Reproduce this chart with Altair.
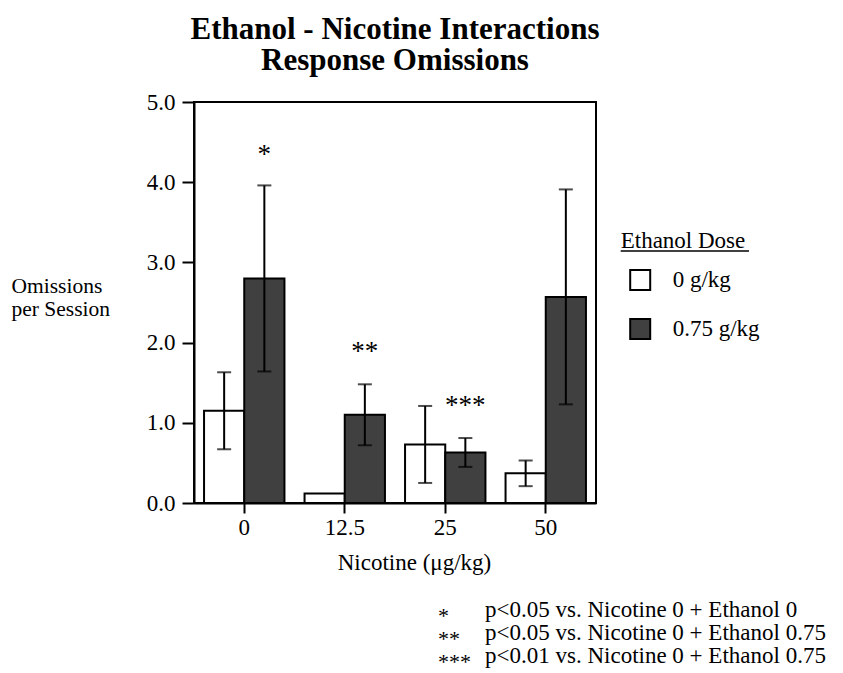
import altair as alt
import pandas as pd

FONT = "Liberation Serif"

nicotine = ["0", "12.5", "25", "50"]
doses = ["0 g/kg", "0.75 g/kg"]
mean_0 = [1.15, 0.12, 0.73, 0.37]
sem_0 = [0.48, 0.0, 0.48, 0.16]
mean_075 = [2.80, 1.10, 0.63, 2.57]
sem_075 = [1.16, 0.38, 0.18, 1.34]

star_labels = ["*", "**", "***"]
star_nicotine = ["0", "12.5", "25"]
star_y = [4.24, 1.78, 1.11]

footnote_marks = ["*", "**", "***"]
footnote_text = [
    "p<0.05 vs. Nicotine 0 + Ethanol 0",
    "p<0.05 vs. Nicotine 0 + Ethanol 0.75",
    "p<0.01 vs. Nicotine 0 + Ethanol 0.75",
]

rows = []
for n, m, s in zip(nicotine, mean_0, sem_0):
    rows.append({"nicotine": n, "dose": doses[0], "mean": m, "sem": s})
for n, m, s in zip(nicotine, mean_075, sem_075):
    rows.append({"nicotine": n, "dose": doses[1], "mean": m, "sem": s})
df = pd.DataFrame(rows)
df["lo"] = df["mean"] - df["sem"]
df["hi"] = df["mean"] + df["sem"]

stars = pd.DataFrame({"nicotine": star_nicotine, "dose": [doses[1]] * 3,
                      "y": star_y, "label": star_labels})
one = pd.DataFrame({"k": [0]})

FS = 23

x_enc = alt.X("nicotine:N", sort=nicotine,
              scale=alt.Scale(paddingInner=0.2, paddingOuter=0.1),
              axis=alt.Axis(title="Nicotine (μg/kg)", labelAngle=0, tickSize=10,
                            tickWidth=2, tickColor="black", domainWidth=2,
                            domainColor="black", labelFontSize=FS, labelFont=FONT,
                            labelColor="black", labelPadding=3, titleFont=FONT,
                            titleFontSize=FS, titleFontWeight="normal",
                            titleX=220, titleY=66, titleBaseline="alphabetic",
                            titleColor="black"))
xo_enc = alt.XOffset("dose:N", sort=doses,
                     scale=alt.Scale(paddingInner=0, paddingOuter=0))
y_scale = alt.Scale(domain=[0, 5], nice=False)
y_axis = alt.Axis(values=[0, 1, 2, 3, 4, 5], format=".1f", tickSize=12, tickWidth=2,
                  tickColor="black", domainWidth=2, domainColor="black", grid=False,
                  labelFontSize=FS, labelFont=FONT, labelColor="black", labelPadding=7,
                  titleAngle=0, titleAlign="left", titleX=-183, titleY=190,
                  titleBaseline="alphabetic", titleFontSize=21.5, titleFont=FONT,
                  titleFontWeight="normal", titleLineHeight=23, titleColor="black")
y_title = ["Omissions", "per Session"]

bars = alt.Chart(df).mark_bar(stroke="black", strokeWidth=2).encode(
    x=x_enc,
    xOffset=xo_enc,
    y=alt.Y("mean:Q", scale=y_scale, axis=y_axis, title=y_title),
    fill=alt.Fill("dose:N", sort=doses,
                  scale=alt.Scale(domain=doses, range=["white", "#404040"]),
                  legend=alt.Legend(title="Ethanol Dose", orient="none",
                                    legendX=426.7, legendY=127.6,
                                    symbolType="square", symbolSize=400,
                                    symbolStrokeColor="black", symbolStrokeWidth=2,
                                    symbolOffset=8, labelOffset=21, rowPadding=20,
                                    titlePadding=16, titleFontSize=FS, labelFontSize=FS,
                                    titleFont=FONT, labelFont=FONT,
                                    titleFontWeight="normal", titleColor="black",
                                    labelColor="black")),
)

err = alt.Chart(df).transform_filter("datum.sem > 0")
rules = err.mark_rule(color="black", strokeWidth=2).encode(
    x=x_enc, xOffset=xo_enc,
    y=alt.Y("lo:Q", scale=y_scale, axis=y_axis, title=y_title),
    y2="hi:Q",
)
cap_hi = err.mark_tick(color="black", size=14, thickness=2).encode(
    x=x_enc, xOffset=xo_enc,
    y=alt.Y("hi:Q", scale=y_scale, axis=y_axis, title=y_title),
)
cap_lo = err.mark_tick(color="black", size=14, thickness=2).encode(
    x=x_enc, xOffset=xo_enc,
    y=alt.Y("lo:Q", scale=y_scale, axis=y_axis, title=y_title),
)

star_text = alt.Chart(stars).mark_text(font=FONT, fontSize=27, color="black",
                                        baseline="alphabetic").encode(
    x=x_enc, xOffset=xo_enc,
    y=alt.Y("y:Q", scale=y_scale, axis=y_axis, title=y_title),
    text="label:N",
)

underline = alt.Chart(one).mark_rule(color="black", strokeWidth=1.5).encode(
    x=alt.value(426.7), x2=alt.value(555), y=alt.value(149)
)

foot_marks = alt.Chart(one).mark_text(text=footnote_marks, font=FONT, fontSize=22,
                                      align="left", baseline="alphabetic",
                                      lineHeight=23, color="black").encode(
    x=alt.value(244), y=alt.value(521)
)
foot_text = alt.Chart(one).mark_text(text=footnote_text, font=FONT, fontSize=FS,
                                     align="left", baseline="alphabetic",
                                     lineHeight=23, color="black").encode(
    x=alt.value(291), y=alt.value(515)
)

chart = alt.layer(bars, rules, cap_hi, cap_lo, star_text, underline, foot_marks,
                  foot_text).properties(
    width=402, height=401,
    autosize=alt.AutoSizeParams(type="none"),
    padding={"left": 186, "top": 94, "right": 230, "bottom": 168},
    background="white",
    title=alt.TitleParams(text=["Ethanol - Nicotine Interactions", "Response Omissions"],
                          font=FONT, fontSize=31, fontWeight="bold", lineHeight=31,
                          anchor="middle", color="black", offset=14),
).configure_view(stroke="black", strokeWidth=2)

chart.save("out.html", embed_options={"renderer": "svg", "actions": False})
